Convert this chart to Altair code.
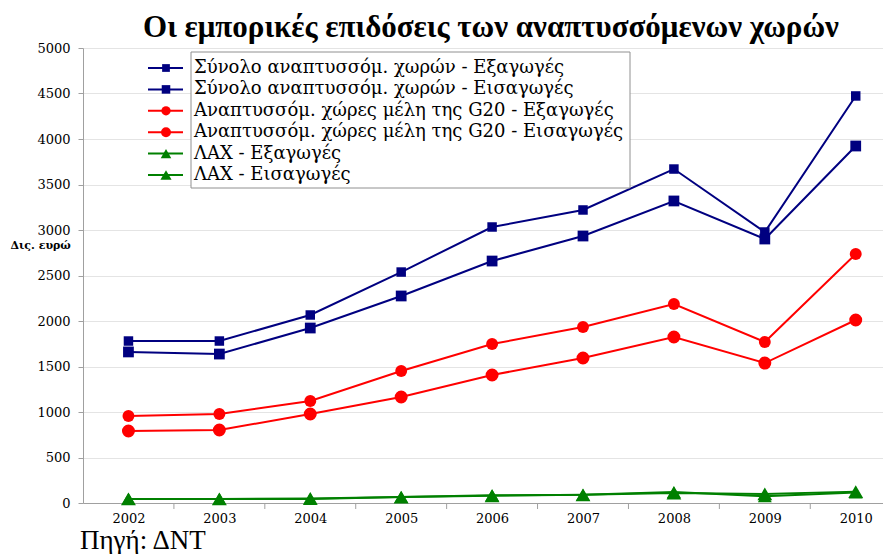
import altair as alt
import pandas as pd

years = [2002, 2003, 2004, 2005, 2006, 2007, 2008, 2009, 2010]
series_names = [
    "Σύνολο αναπτυσσόμ. χωρών - Εξαγωγές",
    "Σύνολο αναπτυσσόμ. χωρών - Εισαγωγές",
    "Αναπτυσσόμ. χώρες μέλη της G20 - Εξαγωγές",
    "Αναπτυσσόμ. χώρες μέλη της G20 - Εισαγωγές",
    "ΛΑΧ - Εξαγωγές",
    "ΛΑΧ - Εισαγωγές",
]
total_exports = [1780, 1780, 2066, 2538, 3033, 3220, 3670, 2978, 4473]
total_imports = [1660, 1637, 1923, 2275, 2659, 2934, 3319, 2901, 3923]
g20_exports = [956, 978, 1121, 1451, 1747, 1934, 2187, 1769, 2736]
g20_imports = [791, 802, 978, 1165, 1407, 1593, 1824, 1538, 2011]
ldc_exports = [45, 45, 45, 65, 85, 90, 120, 75, 115]
ldc_imports = [45, 45, 50, 65, 80, 90, 110, 100, 125]
y_ticks = [0, 500, 1000, 1500, 2000, 2500, 3000, 3500, 4000, 4500, 5000]
half_ticks = [2002.5, 2003.5, 2004.5, 2005.5, 2006.5, 2007.5, 2008.5, 2009.5]
title_text = "Οι εμπορικές επιδόσεις των αναπτυσσόμενων χωρών"
y_title = "Δις. ευρώ"
source_text = ["Πηγή: ΔΝΤ"]

colors = ["#000080", "#000080", "#ff0000", "#ff0000", "#008000", "#008000"]
shapes = ["square", "square", "circle", "circle", "triangle-up", "triangle-up"]
sizes = [90, 220, 80, 220, 110, 220]
legend_sizes = [60, 125, 55, 125, 70, 130]
widths = [2, 2, 2, 2, 3, 3]

all_values = [total_exports, total_imports, g20_exports, g20_imports, ldc_exports, ldc_imports]
rows = []
for name, vals in zip(series_names, all_values):
    for yr, v in zip(years, vals):
        rows.append({"year": yr, "series": name, "value": v})
df = pd.DataFrame(rows)
legend_df = pd.DataFrame({"series": series_names})
ticks_df = pd.DataFrame({"tick": half_ticks})
source_df = pd.DataFrame({"label": source_text})

TIMES = "Liberation Serif"
WIDE = "DejaVu Serif"
W, H = 800, 455

color = alt.Color("series:N", scale=alt.Scale(domain=series_names, range=colors), legend=None)
shape = alt.Shape("series:N", scale=alt.Scale(domain=series_names, range=shapes), legend=None)
size = alt.Size("series:O", scale=alt.Scale(domain=series_names, range=sizes), legend=None)
lsize = alt.Size("series:O", scale=alt.Scale(domain=series_names, range=legend_sizes), legend=None)
swidth = alt.StrokeWidth("series:O", scale=alt.Scale(domain=series_names, range=widths), legend=None)

x = alt.X(
    "year:Q",
    scale=alt.Scale(domain=[2001.5, 2010.3], nice=False, zero=False),
    axis=alt.Axis(
        values=years, format="d", ticks=False, grid=False, domainColor="#a0a0a0",
        labelFont=WIDE, labelFontSize=13, labelColor="black", labelPadding=9, title=None,
    ),
)
y = alt.Y(
    "value:Q",
    scale=alt.Scale(domain=[0, 5000], nice=False),
    axis=alt.Axis(
        values=y_ticks, format="d", tickSize=5, tickColor="#a0a0a0", domainColor="#a0a0a0",
        gridColor="#e4e4e4", labelFont=WIDE, labelFontSize=13, labelColor="black",
        labelPadding=8, title=y_title, titleAngle=0, titleAlign="left",
        titleBaseline="middle", titleX=-73, titleY=197, titleFont=WIDE,
        titleFontSize=11, titleFontWeight="bold", titleColor="black",
    ),
)

base = alt.Chart(df)
lines = base.mark_line().encode(x=x, y=y, color=color, strokeWidth=swidth, detail="series:N")
points = base.mark_point(filled=True, opacity=1).encode(
    x=x, y=y, color=color, shape=shape, size=size
)
halfticks = alt.Chart(ticks_df).mark_rule(color="#a0a0a0").encode(
    x=alt.X("tick:Q"), y=alt.value(H), y2=alt.value(H + 6)
)
data_layer = alt.layer(lines, points, halfticks)

ly = alt.Y(
    "series:N",
    scale=alt.Scale(domain=series_names, type="point", range=[20, 127], padding=0),
    axis=None,
)
box = alt.Chart(pd.DataFrame({"k": [0]})).mark_rect(
    fill="white", stroke="#909090", strokeWidth=1
).encode(x=alt.value(108), x2=alt.value(547), y=alt.value(4), y2=alt.value(140))
leg_rules = alt.Chart(legend_df).mark_rule().encode(
    x=alt.value(65), x2=alt.value(100), y=ly, color=color, strokeWidth=swidth
)
leg_points = alt.Chart(legend_df).mark_point(filled=True, opacity=1).encode(
    x=alt.value(83), y=ly, color=color, shape=shape, size=lsize
)
leg_text = alt.Chart(legend_df).mark_text(
    align="left", baseline="middle", font=WIDE, fontSize=18, color="black"
).encode(x=alt.value(111), y=ly, text="series:N")
legend_layer = alt.layer(box, leg_rules, leg_points, leg_text)

source = alt.Chart(source_df).mark_text(
    align="left", baseline="alphabetic", font=TIMES, fontSize=27, color="black"
).encode(x=alt.value(-3), y=alt.value(H + 46), text="label:N")

chart = (
    alt.layer(data_layer, legend_layer, source)
    .resolve_scale(y="independent", size="independent")
    .properties(
        width=W,
        height=H,
        autosize=alt.AutoSizeParams(type="none"),
        padding={"left": 75, "top": 40, "right": 0, "bottom": 52},
        title=alt.TitleParams(
            title_text, font=TIMES, fontSize=31, fontWeight="bold", color="black",
            anchor="middle", dx=8, dy=14, offset=12,
        ),
        background="white",
    )
    .configure_view(stroke=None)
)

chart.save("out.html", embed_options={"renderer": "svg", "actions": False})
